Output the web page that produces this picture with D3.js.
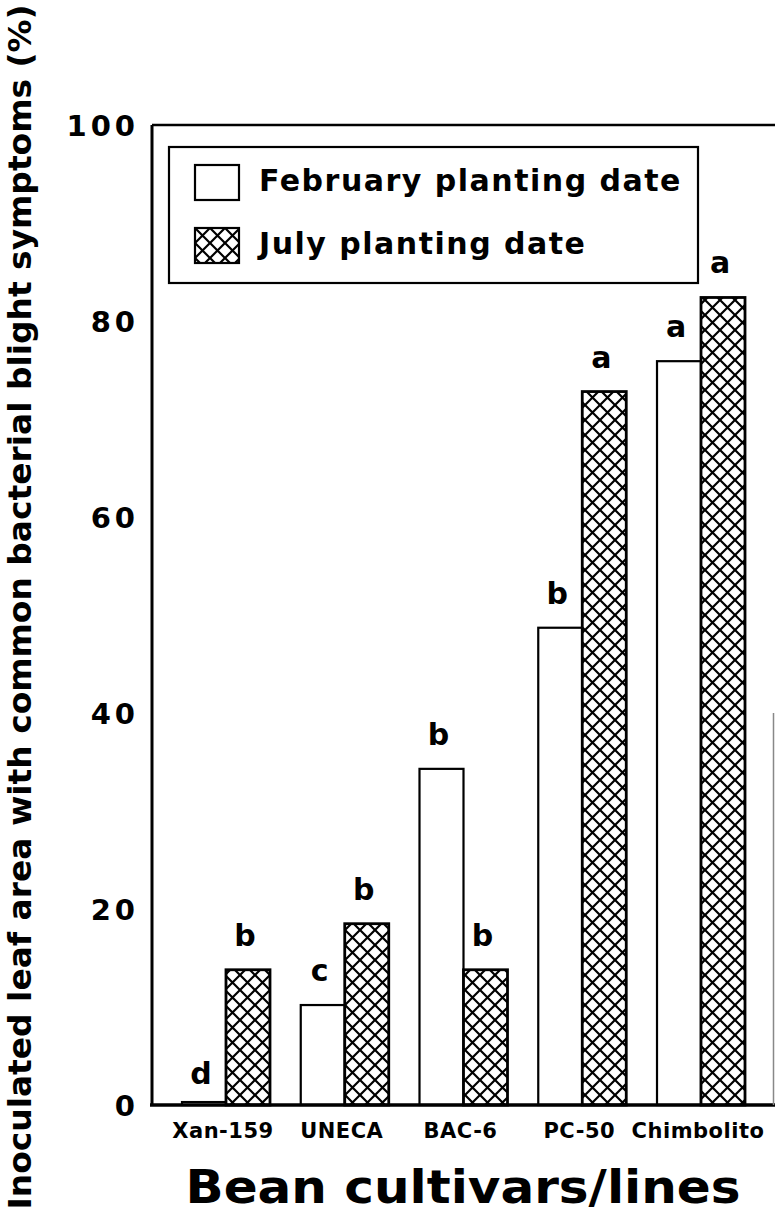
<!DOCTYPE html>
<html>
<head>
<meta charset="utf-8">
<script src="https://cdn.jsdelivr.net/npm/d3@7"></script>
<style>
  body { margin: 0; background: #fff; }
  text { font-family: "DejaVu Sans", sans-serif; font-weight: bold; fill: #000; }
</style>
</head>
<body>
<div id="container"></div>
<script>
const width = 775,
        height = 1215,
        margin = {
            top: 125,
            bottom: 110,
            left: 152,
            right: 0
        };

// data
var cultivars = ["Xan-159", "UNECA", "BAC-6", "PC-50", "Chimbolito"];
var seriesNames = ["February planting date", "July planting date"];
var febValues = [0.3, 10.2, 34.3, 48.7, 75.9];
var julValues = [13.8, 18.5, 13.8, 72.8, 82.4];
var febLetters = ["d", "c", "b", "b", "a"];
var julLetters = ["b", "b", "b", "a", "a"];
var yTicks = [0, 20, 40, 60, 80, 100];

var svg = d3.select("#container").append("svg")
        .attr("width", width)
        .attr("height", height)
        .style("display", "block");

// cross hatch for the July bars
var defs = svg.append("defs");
var pat = defs.append("pattern")
    .attr("id", "xhatch")
    .attr("patternUnits", "userSpaceOnUse")
    .attr("width", 15)
    .attr("height", 15);
pat.append("rect").attr("width", 15).attr("height", 15).attr("fill", "#fff");
pat.append("path")
    .attr("d", "M0,0L15,15M15,0L0,15M-1,14L1,16M14,-1L16,1")
    .attr("stroke", "#000")
    .attr("stroke-width", 2.2);

var x = d3.scaleBand()
    .domain(cultivars)
    .range([margin.left, width - margin.right])
    .paddingInner(0.259)
    .paddingOuter(0.2526);

var xs = d3.scaleBand()
    .domain(["feb", "jul"])
    .range([0, x.bandwidth()]);

var y = d3.scaleLinear()
    .domain([0, 100])
    .range([height - margin.bottom, margin.top]);

var rows = cultivars.map(function(c, i) {
    return [
        {cat: c, key: "feb", v: febValues[i], letter: febLetters[i]},
        {cat: c, key: "jul", v: julValues[i], letter: julLetters[i]}
    ];
});
var flat = [].concat.apply([], rows);

// bars
svg.selectAll("rect.bar")
    .data(flat)
    .enter()
    .append("rect")
    .attr("class", "bar")
    .attr("x", function(d) { return x(d.cat) + xs(d.key); })
    .attr("y", function(d) { return y(d.v); })
    .attr("width", xs.bandwidth())
    .attr("height", function(d) { return y(0) - y(d.v); })
    .attr("fill", function(d) { return d.key == "jul" ? "url(#xhatch)" : "#fff"; })
    .attr("stroke", "#000")
    .attr("stroke-width", function(d) { return d.key == "jul" ? 2.8 : 2.2; });

// significance letters
svg.selectAll("text.letter")
    .data(flat)
    .enter()
    .append("text")
    .attr("class", "letter")
    .attr("x", function(d) { return x(d.cat) + xs(d.key) + xs.bandwidth() / 2 - 3; })
    .attr("y", function(d) { return y(d.v) - (d.v < 2 ? 18 : 24); })
    .attr("text-anchor", "middle")
    .style("font-size", "30px")
    .text(function(d) { return d.letter; });

// frame: left axis, bottom axis, top border, partial right edge
svg.append("line")
    .attr("x1", margin.left).attr("x2", margin.left)
    .attr("y1", y(100)).attr("y2", y(0))
    .attr("stroke", "#000").attr("stroke-width", 3);
svg.append("line")
    .attr("x1", margin.left - 2).attr("x2", width)
    .attr("y1", y(0)).attr("y2", y(0))
    .attr("stroke", "#000").attr("stroke-width", 3.5);
svg.append("line")
    .attr("x1", margin.left).attr("x2", width)
    .attr("y1", y(100)).attr("y2", y(100))
    .attr("stroke", "#000").attr("stroke-width", 2.5);
svg.append("line")
    .attr("x1", width - 1.5).attr("x2", width - 1.5)
    .attr("y1", y(40)).attr("y2", y(0))
    .attr("stroke", "#888").attr("stroke-width", 1.5);

// y tick labels
svg.selectAll("text.ytick")
    .data(yTicks)
    .enter()
    .append("text")
    .attr("class", "ytick")
    .attr("x", 139)
    .attr("y", function(d) { return y(d) + 11; })
    .attr("text-anchor", "end")
    .style("font-size", "29px")
    .style("letter-spacing", "4px")
    .text(function(d) { return d; });

// category labels
svg.selectAll("text.cat")
    .data(cultivars)
    .enter()
    .append("text")
    .attr("class", "cat")
    .attr("x", function(d) { return x(d) + x.bandwidth() / 2 - 3; })
    .attr("y", 1138)
    .attr("text-anchor", "middle")
    .style("font-size", "21px")
    .style("letter-spacing", "0.5px")
    .text(function(d) { return d; });

// axis titles
svg.append("text")
    .attr("x", 463)
    .attr("y", 1203)
    .attr("text-anchor", "middle")
    .attr("textLength", 555)
    .attr("lengthAdjust", "spacingAndGlyphs")
    .style("font-size", "46px")
    .text("Bean cultivars/lines");

svg.append("text")
    .attr("transform", `translate(${31}, ${607}) rotate(-90)`)
    .attr("text-anchor", "middle")
    .attr("textLength", 1205)
    .attr("lengthAdjust", "spacingAndGlyphs")
    .style("font-size", "32px")
    .text("Inoculated leaf area with common bacterial blight symptoms (%)");

// legend
var legend = svg.append("g");
legend.append("rect")
    .attr("x", 169).attr("y", 147)
    .attr("width", 529).attr("height", 136)
    .attr("fill", "none")
    .attr("stroke", "#000").attr("stroke-width", 2.2);

var legendRows = legend.selectAll("g.row")
    .data(seriesNames)
    .enter()
    .append("g")
    .attr("class", "row")
    .attr("transform", function(d, i) { return `translate(${195}, ${165 + i * 63})`; });

legendRows.append("rect")
    .attr("width", 44).attr("height", 35)
    .attr("fill", function(d, i) { return i == 1 ? "url(#xhatch)" : "#fff"; })
    .attr("stroke", "#000").attr("stroke-width", 2.2);

legendRows.append("text")
    .attr("x", 64)
    .attr("y", 26)
    .style("font-size", "30px")
    .style("letter-spacing", "1.5px")
    .text(function(d) { return d; });
</script>
</body>
</html>
